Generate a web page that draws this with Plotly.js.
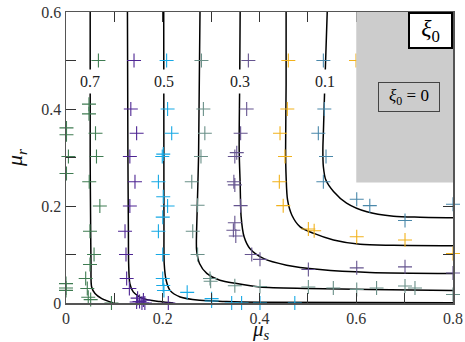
<!DOCTYPE html>
<html>
<head>
<meta charset="utf-8">
<script src="https://cdn.plot.ly/plotly-3.0.1.min.js"></script>
<style>
  body { margin: 0; background: #fff; }
  #myPlot { width: 465px; height: 342px; }
</style>
</head>
<body>
<div id="myPlot"></div>
<script>
// Contour lines of xi_0
var c07x = [0.050, 0.050, 0.051, 0.0517, 0.053, 0.060, 0.074, 0.098];
var c07y = [0.6, 0.3, 0.150, 0.0815, 0.033, 0.0195, 0.009, 0.0];
var c06x = [0.127, 0.128, 0.129, 0.1295, 0.132, 0.139, 0.160, 0.194, 0.222];
var c06y = [0.6, 0.3, 0.150, 0.0815, 0.040, 0.023, 0.009, 0.003, 0.0];
var c05x = [0.202, 0.2025, 0.203, 0.207, 0.215, 0.236, 0.277, 0.332, 0.401, 0.8];
var c05y = [0.6, 0.150, 0.0815, 0.047, 0.026, 0.0124, 0.0056, 0.003, 0.0015, 0.0005];
var c04x = [0.277, 0.274, 0.270, 0.270, 0.276, 0.291, 0.318, 0.353, 0.401, 0.498, 0.628, 0.8];
var c04y = [0.6, 0.3, 0.150, 0.109, 0.0815, 0.061, 0.047, 0.040, 0.033, 0.030, 0.028, 0.026];
var c03x = [0.360, 0.359, 0.358, 0.360, 0.362, 0.368, 0.380, 0.408, 0.456, 0.525, 0.628, 0.8];
var c03y = [0.6, 0.45, 0.316, 0.247, 0.178, 0.137, 0.1125, 0.092, 0.078, 0.069, 0.063, 0.061];
var c02x = [0.455, 0.455, 0.454, 0.455, 0.458, 0.467, 0.484, 0.511, 0.553, 0.608, 0.677, 0.8];
var c02y = [0.6, 0.45, 0.316, 0.261, 0.2125, 0.181, 0.157, 0.144, 0.130, 0.121, 0.119, 0.118];
var c01x = [0.540, 0.535, 0.532, 0.531, 0.532, 0.537, 0.553, 0.580, 0.622, 0.677, 0.732, 0.8];
var c01y = [0.6, 0.45, 0.35, 0.316, 0.281, 0.254, 0.230, 0.206, 0.188, 0.179, 0.177, 0.176];

var levelLabels = ["0.7", "0.5", "0.3", "0.1"];
var labelX = [0.050, 0.2025, 0.360, 0.535];
var labelY = 0.457;

// Sample points, grouped by colour
var greenX = [0.067, 0.0475, 0.0475, 0.001, 0.001, 0.061, 0.005, 0.063, 0.001, 0.048, 0.070, 0.0496, 0.058, 0.0496, 0.0407, 0, 0, 0, 0.044, 0.046, 0.051, 0.094];
var greenY = [0.5, 0.41, 0.39, 0.361, 0.347, 0.350, 0.302, 0.302, 0.267, 0.250, 0.200, 0.148, 0.100, 0.0795, 0.0505, 0.040, 0.031, 0.026, 0.030, 0.0118, 0.007, 0.0];
var purpleX = [0.1406, 0.134, 0.146, 0.132, 0.1426, 0.132, 0.122, 0.124, 0.1254, 0.131, 0.148, 0.152, 0.157, 0.160, 0.146, 0.163, 0.2115];
var purpleY = [0.5, 0.40, 0.350, 0.302, 0.250, 0.200, 0.148, 0.100, 0.0505, 0.030, 0.010, 0.003, 0.0, 0.006, 0.002, 0.0, 0.0];
var cyanX = [0.208, 0.210, 0.2185, 0.199, 0.201, 0.191, 0.201, 0.210, 0.200, 0.191, 0.200, 0.200, 0.201, 0.2025, 0.2505, 0.301, 0.301, 0.3425, 0.363, 0.401, 0.473];
var cyanY = [0.5, 0.40, 0.350, 0.302, 0.307, 0.250, 0.219, 0.200, 0.177, 0.148, 0.100, 0.0505, 0.036, 0.0257, 0.022, 0.009, 0.004, 0, 0, 0, 0];
var sageX = [0.280, 0.284, 0.287, 0.279, 0.26, 0.272, 0.262, 0.272, 0.2977, 0.299, 0.349, 0.401, 0.501, 0.5526, 0.601, 0.642, 0.7008, 0.7214, 0.8];
var sageY = [0.5, 0.40, 0.350, 0.302, 0.250, 0.2015, 0.148, 0.100, 0.0505, 0.045, 0.0355, 0.034, 0.033, 0.031, 0.028, 0.031, 0.035, 0.031, 0.0174];
var violetX = [0.377, 0.3735, 0.361, 0.349, 0.353, 0.347, 0.349, 0.361, 0.349, 0.346, 0.351, 0.384, 0.401, 0.501, 0.601, 0.7008, 0.8];
var violetY = [0.50, 0.40, 0.350, 0.302, 0.310, 0.250, 0.2435, 0.2007, 0.1655, 0.150, 0.138, 0.100, 0.090, 0.069, 0.0725, 0.0745, 0.062];
var yellowX = [0.4596, 0.5995, 0.4575, 0.4424, 0.4527, 0.441, 0.449, 0.501, 0.513, 0.601, 0.7008, 0.8];
var yellowY = [0.50, 0.50, 0.40, 0.350, 0.302, 0.250, 0.2007, 0.1525, 0.149, 0.1365, 0.130, 0.102];
var tealX = [0.532, 0.534, 0.5216, 0.5375, 0.532, 0.601, 0.628, 0.7008, 0.8];
var tealY = [0.50, 0.40, 0.350, 0.302, 0.250, 0.214, 0.2007, 0.170, 0.2035];

var serif = "Liberation Serif";

function contour(x, y) {
    return { x: x, y: y, mode: "lines", line: { color: "#000", width: 1.5, shape: "spline", smoothing: 0.8 }, hoverinfo: "skip" };
}
function points(x, y, color) {
    return { x: x, y: y, mode: "markers", cliponaxis: false,
        marker: { symbol: "cross-thin-open", size: 10, color: color, line: { color: color, width: 1.1 } } };
}

var data = [
    contour(c07x, c07y), contour(c06x, c06y), contour(c05x, c05y), contour(c04x, c04y),
    contour(c03x, c03y), contour(c02x, c02y), contour(c01x, c01y),
    points(greenX, greenY, "#3f7c52"),
    points(purpleX, purpleY, "#4e2593"),
    points(cyanX, cyanY, "#17a9e5"),
    points(sageX, sageY, "#6a9088"),
    points(violetX, violetY, "#65548f"),
    points(yellowX, yellowY, "#f2b21c"),
    points(tealX, tealY, "#4a88aa")
];

var annotations = [];
for (var i = 0; i < levelLabels.length; i++) {
    annotations.push({ x: labelX[i], y: labelY, text: levelLabels[i], showarrow: false,
        bgcolor: "#fff", borderpad: 3, font: { family: serif, size: 16, color: "#222" } });
}
annotations.push({ x: 0.7535, y: 0.5614, text: "<i>ξ</i><sub>0</sub>", showarrow: false,
    width: 41, height: 33, bgcolor: "#fff", bordercolor: "#000", borderwidth: 2, borderpad: 0,
    font: { family: serif, size: 24, color: "#000" } });
annotations.push({ x: 0.708, y: 0.4246, text: "<i>ξ</i><sub>0</sub> = 0", showarrow: false,
    width: 58, height: 26, bgcolor: "#cccccc", bordercolor: "#444", borderwidth: 1, borderpad: 1,
    font: { family: serif, size: 17, color: "#000" } });
// x axis title, set just under the tick labels
annotations.push({ xref: "paper", yref: "paper", x: 0.503, y: -0.093, yanchor: "middle",
    text: "<i>μ<sub>s</sub></i>", showarrow: false, borderpad: 0,
    font: { family: serif, size: 21, color: "#111" } });

var axisStyle = {
    ticks: "inside", ticklen: 10, tickcolor: "#333", showgrid: false, zeroline: false,
    showline: true, linecolor: "#555", linewidth: 1.5, mirror: "ticks",
    minor: { dtick: 0.1, ticks: "inside", ticklen: 10, tickcolor: "#333", showgrid: false },
    tickfont: { family: serif, size: 16, color: "#333" }
};

var layout = {
    width: 465, height: 342,
    margin: { l: 66, r: 12, t: 12, b: 39 },
    showlegend: false,
    paper_bgcolor: "#fff", plot_bgcolor: "#fff",
    font: { family: serif, size: 16, color: "#333" },
    xaxis: Object.assign({}, axisStyle, { range: [0, 0.8], tick0: 0, dtick: 0.2, automargin: false }),
    yaxis: Object.assign({}, axisStyle, { range: [0, 0.6], tick0: 0, dtick: 0.2, automargin: false,
        title: { text: "<i>μ<sub>r</sub></i>", standoff: 12, font: { family: serif, size: 22, color: "#111" } } }),
    shapes: [{ type: "rect", xref: "x", yref: "y", x0: 0.6, x1: 0.8, y0: 0.2485, y1: 0.6,
        fillcolor: "#cccccc", line: { width: 0 }, layer: "above" }],
    annotations: annotations
};

Plotly.newPlot("myPlot", data, layout, { displayModeBar: false, staticPlot: true });
</script>
</body>
</html>
